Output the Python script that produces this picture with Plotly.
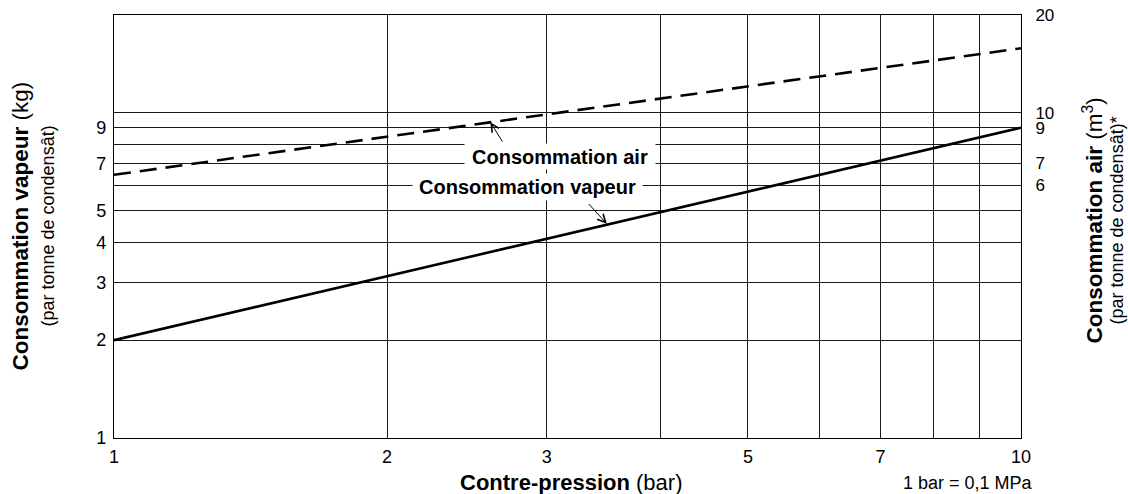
import numpy as np
import plotly.graph_objects as go

# ---- data ----
pression = [1, 3, 10]                 # contre-pression (bar)
vapeur = [2.0, 4.1, 9.0]              # consommation vapeur (kg / t condensat)
air = [6.45, 9.9, 15.8]               # consommation air (m3 / t condensat)

x_ticks = [1, 2, 3, 5, 7, 10]
x_minor = [4, 6, 8, 9]
yl_ticks = [1, 2, 3, 4, 5, 7, 9]
y_minor = [6, 8, 10]
yr_ticks = [6, 7, 9, 10, 20]
y_max = 20

FONT = "Liberation Sans, Arial, Helvetica, sans-serif"
GRID = "#1a1a1a"
TICK = 18

fig = go.Figure()
fig.add_trace(go.Scatter(x=pression, y=vapeur, mode="lines",
                         line=dict(color="black", width=2.6),
                         showlegend=False, hoverinfo="skip"))
fig.add_trace(go.Scatter(x=pression, y=air, mode="lines",
                         line=dict(color="black", width=2.6, dash="17px,9px"),
                         showlegend=False, hoverinfo="skip"))
# invisible trace to activate the right axis
fig.add_trace(go.Scatter(x=pression, y=air, yaxis="y2", mode="lines",
                         line=dict(color="rgba(0,0,0,0)"), showlegend=False,
                         hoverinfo="skip"))

def on_line(xv, ys):
    lx = np.log10(pression)
    ly = np.log10(ys)
    return float(np.interp(np.log10(xv), lx, ly))

annotations = []
# in-plot labels with white background
annotations.append(dict(x=np.log10(3.10), y=np.log10(7.36), xref="x", yref="y",
                        text="<b>Consommation air</b>", showarrow=False,
                        font=dict(family=FONT, size=20, color="black"),
                        bgcolor="white", width=190, height=25, borderpad=0))
annotations.append(dict(x=np.log10(2.854), y=np.log10(5.906), xref="x", yref="y",
                        text="<b>Consommation vapeur</b>", showarrow=False,
                        font=dict(family=FONT, size=20, color="black"),
                        bgcolor="white", width=229, height=26, borderpad=0))
# arrows
annotations.append(dict(x=np.log10(2.6), y=on_line(2.6, air), xref="x", yref="y",
                        text="", showarrow=True, arrowhead=5, arrowsize=1.6,
                        arrowwidth=1, arrowcolor="black", ax=13, ay=21,
                        standoff=0))
annotations.append(dict(x=np.log10(3.5), y=on_line(3.5, vapeur), xref="x", yref="y",
                        text="", showarrow=True, arrowhead=5, arrowsize=1.6,
                        arrowwidth=1, arrowcolor="black", ax=-20, ay=-22,
                        standoff=1))
# axis titles
annotations.append(dict(x=0, y=0.5, xref="paper", yref="paper", xshift=-94,
                        text="<b>Consommation vapeur</b> (kg)", textangle=-90,
                        showarrow=False, xanchor="center", yanchor="middle",
                        font=dict(family=FONT, size=22.5, color="black")))
annotations.append(dict(x=0, y=0.5, xref="paper", yref="paper", xshift=-67,
                        text="(par tonne de condensât)", textangle=-90,
                        showarrow=False, xanchor="center", yanchor="middle",
                        font=dict(family=FONT, size=18, color="black")))
annotations.append(dict(x=1, y=0.5, xref="paper", yref="paper", xshift=71, yshift=6,
                        text="<b>Consommation air</b> (m<sup>3</sup>)", textangle=-90,
                        showarrow=False, xanchor="center", yanchor="middle",
                        font=dict(family=FONT, size=22.5, color="black")))
annotations.append(dict(x=1, y=0.5, xref="paper", yref="paper", xshift=95, yshift=6,
                        text="(par tonne de condensât)*", textangle=-90,
                        showarrow=False, xanchor="center", yanchor="middle",
                        font=dict(family=FONT, size=18, color="black")))
annotations.append(dict(x=0.5, y=0, xref="paper", yref="paper", xshift=3, yshift=-44,
                        text="<b>Contre-pression</b> (bar)",
                        showarrow=False, xanchor="center", yanchor="middle",
                        font=dict(family=FONT, size=22, color="black")))
annotations.append(dict(x=1, y=0, xref="paper", yref="paper", xshift=14, yshift=-45,
                        text="1 bar = 0,1 MPa",
                        showarrow=False, xanchor="right", yanchor="middle",
                        font=dict(family=FONT, size=18, color="black")))

fig.update_layout(
    width=1128, height=494, autosize=False,
    margin=dict(l=114, r=107, t=15, b=56, autoexpand=False),
    paper_bgcolor="white", plot_bgcolor="white",
    font=dict(family=FONT, size=TICK, color="black"),
    xaxis=dict(type="log", range=[0, 1], tickvals=x_ticks,
               ticktext=[str(v) for v in x_ticks], automargin=False,
               showgrid=True, gridcolor=GRID, gridwidth=1,
               minor=dict(tickvals=x_minor, showgrid=True, gridcolor=GRID,
                          gridwidth=1, ticklen=0),
               showline=True, linecolor="black", linewidth=1.3, mirror=True,
               ticks="outside", ticklen=2, tickcolor="rgba(0,0,0,0)",
               zeroline=False,
               tickfont=dict(family=FONT, size=TICK, color="black")),
    yaxis=dict(type="log", range=[0, np.log10(y_max)], tickvals=yl_ticks,
               ticktext=[str(v) for v in yl_ticks], automargin=False,
               showgrid=True, gridcolor=GRID, gridwidth=1,
               minor=dict(tickvals=y_minor, showgrid=True, gridcolor=GRID,
                          gridwidth=1, ticklen=0),
               showline=True, linecolor="black", linewidth=1.3, mirror=True,
               ticks="outside", ticklen=3, tickcolor="rgba(0,0,0,0)",
               zeroline=False,
               tickfont=dict(family=FONT, size=TICK, color="black")),
    yaxis2=dict(type="log", range=[0, np.log10(y_max)], overlaying="y",
                side="right", tickvals=yr_ticks, automargin=False,
                ticktext=[str(v) for v in yr_ticks], showgrid=False,
                showline=False, ticks="outside", ticklen=10,
                tickcolor="rgba(0,0,0,0)", zeroline=False,
                tickfont=dict(family=FONT, size=17, color="black")),
    annotations=annotations,
    showlegend=False,
)

fig.write_html("out.html", config={"displayModeBar": False},
               post_script="document.body.style.margin='0';document.body.style.padding='0';")
